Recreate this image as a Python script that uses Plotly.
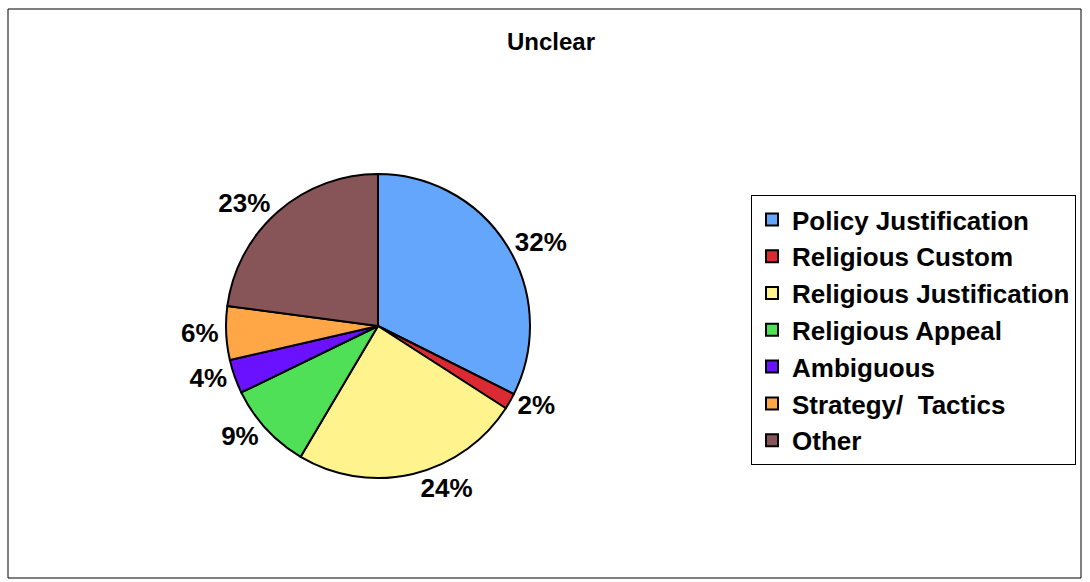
import plotly.graph_objects as go

categories = ["Policy Justification", "Religious Custom", "Religious Justification",
              "Religious Appeal", "Ambiguous", "Strategy/  Tactics", "Other"]
values = [32.4, 1.7, 24.4, 9.3, 3.6, 5.7, 22.9]
colors = ["#63A6FC", "#DC2A32", "#FFF38D", "#50E058", "#6A12FF", "#FFA646", "#875557"]

W, H = 1090, 582
FONT = "Liberation Sans, Arial, sans-serif"

fig = go.Figure(go.Pie(
    labels=categories,
    values=values,
    sort=False,
    direction="clockwise",
    rotation=0,
    marker=dict(colors=colors, line=dict(color="black", width=2)),
    textposition="outside",
    texttemplate="%{percent:.0%}",
    textfont=dict(family=FONT, size=26, color="black", weight="bold"),
    domain=dict(x=[226 / W, 530 / W], y=[1 - 478 / H, 1 - 174 / H]),
    hoverinfo="label+percent",
    showlegend=True,
))

fig.update_layout(
    width=W, height=H,
    margin=dict(l=0, r=0, t=0, b=0),
    paper_bgcolor="white",
    plot_bgcolor="white",
    title=dict(text="Unclear", x=551 / W, y=1 - 42 / H, xanchor="center", yanchor="middle",
               font=dict(family=FONT, size=24, color="black", weight="bold")),
    legend=dict(x=751 / W, y=1 - 195 / H, xanchor="left", yanchor="top",
                bordercolor="black", borderwidth=1, bgcolor="white",
                font=dict(family=FONT, size=26, color="black", weight="bold")),
    shapes=[dict(type="rect", xref="paper", yref="paper",
                 x0=8 / W, x1=1081 / W, y0=1 - 578 / H, y1=1 - 9 / H,
                 line=dict(color="black", width=1))],
)

fig.write_html("out.html", config={"displayModeBar": False},
               post_script="document.body.style.margin='0';")
